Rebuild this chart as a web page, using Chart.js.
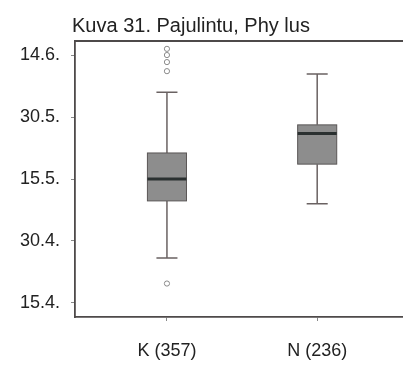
<!DOCTYPE html>
<html lang="fi">
<head>
<meta charset="UTF-8">
<title>Kuva 31. Pajulintu</title>
<script src="https://cdn.jsdelivr.net/npm/chart.js"></script>
<style>
  html, body { margin: 0; padding: 0; background: #fff; overflow: hidden; }
  #wrap { position: relative; width: 420px; height: 365px; }
</style>
</head>
<body>
<div id="wrap"><canvas id="box-chart"></canvas></div>
<script>
// Groups and their box statistics (day of year)
const categories = ['K (357)', 'N (236)'];
const groupPos = [1, 2];
const whiskerLow = [115.9, 129.0];
const q1 = [129.7, 138.6];
const median = [135.0, 146.0];
const q3 = [141.3, 148.1];
const whiskerHigh = [156.0, 160.4];
const outliersK = [109.7, 161.1, 163.3, 165.0, 166.5];
const outliersN = [];

// Y axis ticks: day of year -> date label
const yTickDays = [105, 120, 135, 150, 165];
const yTickLabels = ['15.4.', '30.4.', '15.5.', '30.5.', '14.6.'];

const titleText = 'Kuva 31. Pajulintu, Phy lus';
const fontFamily = '"Liberation Sans", Arial, sans-serif';

const outlierPoints = [];
outliersK.forEach(v => outlierPoints.push({ x: groupPos[0], y: v }));
outliersN.forEach(v => outlierPoints.push({ x: groupPos[1], y: v }));

// draws the boxes, whiskers, frame top line and the title
const boxPlot = {
  id: 'boxPlot',
  beforeDatasetsDraw(chart) {
    const { ctx, scales: { x, y }, chartArea } = chart;
    const halfBox = 0.13;
    const halfCap = 0.07;
    ctx.save();
    for (let i = 0; i < groupPos.length; i++) {
      const cx = x.getPixelForValue(groupPos[i]);
      const bl = x.getPixelForValue(groupPos[i] - halfBox);
      const br = x.getPixelForValue(groupPos[i] + halfBox);
      const cl = x.getPixelForValue(groupPos[i] - halfCap);
      const cr = x.getPixelForValue(groupPos[i] + halfCap);
      const yLo = y.getPixelForValue(whiskerLow[i]);
      const yHi = y.getPixelForValue(whiskerHigh[i]);
      const yQ1 = y.getPixelForValue(q1[i]);
      const yQ3 = y.getPixelForValue(q3[i]);
      const yMed = y.getPixelForValue(median[i]);

      // whiskers and caps
      ctx.strokeStyle = '#6a6262';
      ctx.lineWidth = 1.5;
      ctx.beginPath();
      ctx.moveTo(cx, yHi); ctx.lineTo(cx, yQ3);
      ctx.moveTo(cx, yQ1); ctx.lineTo(cx, yLo);
      ctx.moveTo(cl, yHi); ctx.lineTo(cr, yHi);
      ctx.moveTo(cl, yLo); ctx.lineTo(cr, yLo);
      ctx.stroke();

      // box
      ctx.fillStyle = '#8d8d8d';
      ctx.fillRect(bl, yQ3, br - bl, yQ1 - yQ3);
      ctx.strokeStyle = '#5a5656';
      ctx.lineWidth = 1;
      ctx.strokeRect(bl, yQ3, br - bl, yQ1 - yQ3);

      // median
      ctx.strokeStyle = '#2a3030';
      ctx.lineWidth = 3;
      ctx.beginPath();
      ctx.moveTo(bl, yMed); ctx.lineTo(br, yMed);
      ctx.stroke();
    }

    // top edge of the frame
    ctx.strokeStyle = '#4e4a4a';
    ctx.lineWidth = 1.8;
    ctx.beginPath();
    ctx.moveTo(chartArea.left, chartArea.top);
    ctx.lineTo(chartArea.right, chartArea.top);
    ctx.stroke();

    // title
    ctx.fillStyle = '#222';
    ctx.font = '20px ' + fontFamily;
    ctx.textAlign = 'left';
    ctx.textBaseline = 'alphabetic';
    ctx.fillText(titleText, chartArea.left - 3, chartArea.top - 9);
    ctx.restore();
  }
};

new Chart(document.getElementById('box-chart'), {
  type: 'scatter',
  data: {
    datasets: [{
      data: outlierPoints,
      pointRadius: 2.6,
      pointBorderWidth: 1,
      pointBorderColor: '#8a8a8a',
      pointBackgroundColor: 'rgba(0,0,0,0)'
    }]
  },
  options: {
    responsive: true,
    maintainAspectRatio: false,
    animation: false,
    events: [],
    layout: { padding: { top: 41, left: 0, right: 0, bottom: 0 } },
    plugins: {
      legend: { display: false },
      tooltip: { enabled: false },
      title: { display: false }
    },
    scales: {
      x: {
        type: 'linear',
        min: 0.388,
        max: 2.651,
        afterBuildTicks: scale => { scale.ticks = groupPos.map(v => ({ value: v })); },
        afterFit: scale => { scale.height = 48; },
        ticks: {
          callback: (v) => categories[groupPos.indexOf(v)],
          color: '#222',
          padding: 19,
          maxRotation: 0,
          font: { family: fontFamily, size: 18 }
        },
        grid: { drawOnChartArea: false, tickLength: 4, color: '#888', tickWidth: 1 },
        border: { display: true, color: '#4e4a4a', width: 1.8 }
      },
      y: {
        type: 'linear',
        min: 101.6,
        max: 168.4,
        afterBuildTicks: scale => { scale.ticks = yTickDays.map(v => ({ value: v })); },
        afterFit: scale => { scale.width = 75; },
        ticks: {
          callback: (v) => yTickLabels[yTickDays.indexOf(v)],
          color: '#222',
          padding: 11,
          font: { family: fontFamily, size: 18 }
        },
        grid: { drawOnChartArea: false, tickLength: 4, color: '#888', tickWidth: 1 },
        border: { display: true, color: '#4e4a4a', width: 1.8 }
      }
    }
  },
  plugins: [boxPlot]
});
</script>
</body>
</html>
